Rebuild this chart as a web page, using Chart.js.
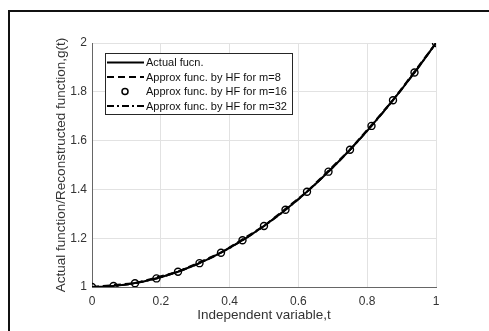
<!DOCTYPE html>
<html>
<head>
<meta charset="utf-8">
<script src="https://cdn.jsdelivr.net/npm/chart.js@4/dist/chart.umd.min.js"></script>
<style>
  body{margin:0;background:#fff;}
  canvas{display:block;}
</style>
</head>
<body>
<canvas id="chart" width="489" height="331"></canvas>
<script>
// actual function g(t)
const tActual = [0,0.05,0.1,0.15,0.2,0.25,0.3,0.35,0.4,0.45,0.5,0.55,0.6,0.65,0.7,0.75,0.8,0.85,0.9,0.95,1];
const gActual = [1,1.0025,1.01,1.0225,1.04,1.0625,1.09,1.1225,1.16,1.2025,1.25,1.3025,1.36,1.4225,1.49,1.5625,1.64,1.7225,1.81,1.9025,2];

// HF approximation, m=8
const t8 = [0,0.125,0.25,0.375,0.5,0.625,0.75,0.875,1];
const g8 = [1,1.0156,1.0625,1.1406,1.25,1.3906,1.5625,1.7656,2];

// HF approximation, m=16
const t16 = [0,0.0625,0.125,0.1875,0.25,0.3125,0.375,0.4375,0.5,0.5625,0.625,0.6875,0.75,0.8125,0.875,0.9375,1];
const g16 = [1,1.0039,1.0156,1.0352,1.0625,1.0977,1.1406,1.1914,1.25,1.3164,1.3906,1.4727,1.5625,1.6602,1.7656,1.8789,2];

// HF approximation, m=32
const t32 = [0,0.03125,0.0625,0.09375,0.125,0.15625,0.1875,0.21875,0.25,0.28125,0.3125,0.34375,0.375,0.40625,0.4375,0.46875,0.5,
             0.53125,0.5625,0.59375,0.625,0.65625,0.6875,0.71875,0.75,0.78125,0.8125,0.84375,0.875,0.90625,0.9375,0.96875,1];
const g32 = [1,1.001,1.0039,1.0088,1.0156,1.0244,1.0352,1.0479,1.0625,1.0791,1.0977,1.1182,1.1406,1.165,1.1914,1.2197,1.25,
             1.2822,1.3164,1.3525,1.3906,1.4307,1.4727,1.5166,1.5625,1.6104,1.6602,1.7119,1.7656,1.8213,1.8789,1.9385,2];

const xTicks = [0,0.2,0.4,0.6,0.8,1];
const yTicks = [1,1.2,1.4,1.6,1.8,2];

const seriesNames = ['Actual fucn.','Approx func. by HF for m=8','Approx func. by HF for m=16','Approx func. by HF for m=32'];

const pts = (xs, ys) => xs.map((x,i)=>({x:x, y:ys[i]}));
const fmt = v => String(Number(v.toFixed(2)));

// frame around the figure
const framePlugin = {
  id:'frame',
  beforeDraw(chart){
    const c = chart.ctx;
    c.save();
    c.strokeStyle = '#111';
    c.lineWidth = 2;
    c.beginPath();
    c.moveTo(9, 331);
    c.lineTo(9, 11);
    c.lineTo(489, 11);
    c.stroke();
    c.restore();
  }
};

// boxed legend in the upper left of the axes
const boxLegend = {
  id:'boxLegend',
  afterDraw(chart){
    const c = chart.ctx;
    c.save();
    c.fillStyle = '#fff';
    c.fillRect(105, 53, 187, 61);
    c.strokeStyle = '#262626';
    c.lineWidth = 1;
    c.strokeRect(105.5, 53.5, 187, 61);
    const rows = [62.5, 77, 91.5, 106];
    chart.data.datasets.forEach((ds, i) => {
      const y = rows[i];
      c.strokeStyle = '#000';
      if (ds.showLine === false) {
        c.setLineDash([]);
        c.lineWidth = 1.5;
        c.beginPath();
        c.arc(125, y, 3, 0, Math.PI*2);
        c.stroke();
      } else {
        c.setLineDash(ds.borderDash || []);
        c.lineWidth = 2;
        c.beginPath();
        c.moveTo(107, y);
        c.lineTo(144, y);
        c.stroke();
      }
      c.setLineDash([]);
      c.fillStyle = '#111';
      c.font = '11px "Liberation Sans", Arial, sans-serif';
      c.textBaseline = 'middle';
      c.fillText(ds.label, 146, y + 0.5);
    });
    c.restore();
  }
};

const tickFont = {family:'"Liberation Sans", Arial, sans-serif', size:12};
const titleFont = {family:'"Liberation Sans", Arial, sans-serif', size:13.5};

new Chart(document.getElementById('chart'), {
  type:'scatter',
  data:{
    datasets:[
      {label:seriesNames[0], data:pts(tActual,gActual), showLine:true, borderColor:'#000', borderWidth:2, pointRadius:0},
      {label:seriesNames[1], data:pts(t8,g8), showLine:true, borderColor:'#000', borderWidth:2, borderDash:[7,4], pointRadius:0},
      {label:seriesNames[2], data:pts(t16,g16), showLine:false, borderColor:'#000', pointBorderColor:'#000',
       pointBackgroundColor:'rgba(0,0,0,0)', pointRadius:3.5, pointBorderWidth:1.4, pointStyle:'circle'},
      {label:seriesNames[3], data:pts(t32,g32), showLine:true, borderColor:'#000', borderWidth:2, borderDash:[7,3,2,3], pointRadius:0}
    ]
  },
  options:{
    responsive:false,
    animation:false,
    layout:{padding:{left:0, top:43, right:53, bottom:0}},
    plugins:{legend:{display:false}, tooltip:{enabled:false}},
    scales:{
      x:{
        type:'linear', min:0, max:1,
        afterBuildTicks: s => { s.ticks = xTicks.map(v=>({value:v})); },
        afterFit: s => { s.height = 44; },
        ticks:{font:tickFont, color:'#333', padding:7, maxRotation:0, callback:fmt},
        grid:{color:'#e2e2e2', drawTicks:false},
        border:{color:'#666', width:1},
        title:{display:true, text:'Independent variable,t', font:titleFont, color:'#333', padding:{top:0,bottom:8}}
      },
      y:{
        type:'linear', min:1, max:2,
        afterBuildTicks: s => { s.ticks = yTicks.map(v=>({value:v})); },
        afterFit: s => { s.width = 92; },
        ticks:{font:tickFont, color:'#333', padding:5, callback:fmt},
        grid:{color:'#e2e2e2', drawTicks:false},
        border:{color:'#666', width:1},
        title:{display:true, text:'Actual function/Reconstructed function,g(t)', font:titleFont, color:'#333', padding:{top:53,bottom:0}}
      }
    }
  },
  plugins:[framePlugin, boxLegend]
});
</script>
</body>
</html>
